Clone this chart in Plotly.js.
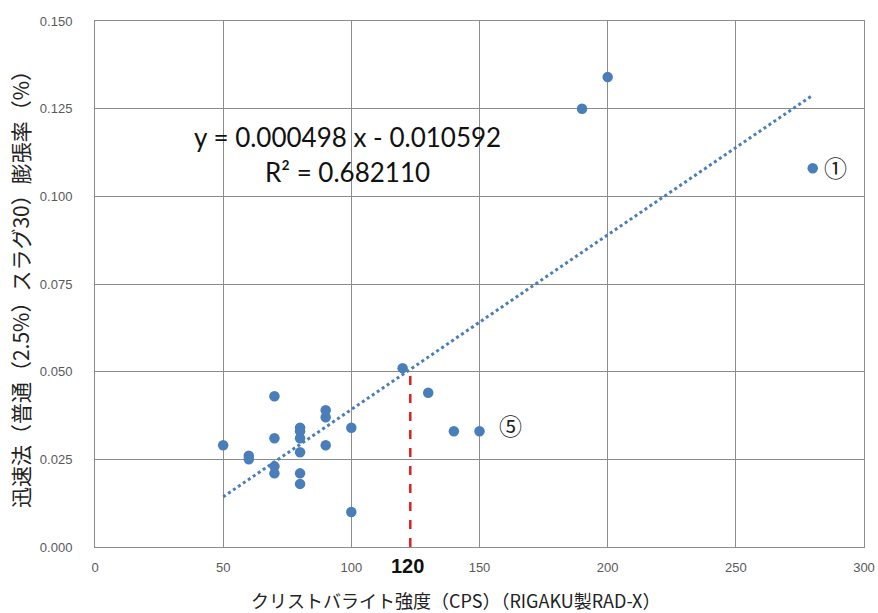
<!DOCTYPE html>
<html>
<head>
<meta charset="utf-8">
<script src="https://cdn.plot.ly/plotly-3.0.1.min.js"></script>
<style>html,body{margin:0;padding:0;background:#fff;}#chart{width:878px;height:613px;}</style>
</head>
<body>
<div id="chart"></div>
<script>
// Data points
const xCps = [50, 60, 60, 70, 70, 70, 70, 80, 80, 80, 80, 80, 80, 90, 90, 90, 100, 100, 120, 130, 140, 150, 190, 200, 280];
const yExp = [0.029, 0.026, 0.025, 0.043, 0.031, 0.023, 0.021, 0.034, 0.033, 0.031, 0.027, 0.021, 0.018, 0.039, 0.037, 0.029, 0.034, 0.010, 0.051, 0.044, 0.033, 0.033, 0.125, 0.134, 0.108];
// Linear trendline (coefficients shown on chart)
const slope = 0.000498;
const intercept = -0.010592;
const trendX = [50, 280];
const trendY = trendX.map(x => slope * x + intercept);
// Threshold marker (hand-drawn in the original, slightly right of 120)
const thresholdX = [123, 123];
const thresholdY = [0, 0.050];
const xTicks = [0, 50, 100, 150, 200, 250, 300];
const yTicks = [0, 0.025, 0.05, 0.075, 0.1, 0.125, 0.15];

const jp = '"Noto Sans CJK JP", "Noto Sans", sans-serif';
const traces = [
  {x: trendX, y: trendY, mode: 'lines', line: {color: '#4a7ebb', width: 3, dash: 'dot'}, hoverinfo: 'skip'},
  {x: thresholdX, y: thresholdY, mode: 'lines', line: {color: '#e02020', width: 2.5, dash: 'dash'}, hoverinfo: 'skip'},
  {x: xCps, y: yExp, mode: 'markers', marker: {color: '#4a7ebb', size: 10.5}}
];
const layout = {
  width: 878, height: 613,
  margin: {l: 95, r: 14, t: 21, b: 66},
  showlegend: false,
  paper_bgcolor: '#fff', plot_bgcolor: '#fff',
  xaxis: {
    range: [0, 300], tickvals: xTicks, ticktext: xTicks.map(String),
    showgrid: true, gridcolor: '#8c8c8c', gridwidth: 1,
    zeroline: false, showline: true, linecolor: '#8c8c8c', mirror: true,
    ticks: '', ticklabelstandoff: 8,
    tickfont: {family: 'Liberation Sans, Arial', size: 13, color: '#595959'}
  },
  yaxis: {
    range: [0, 0.15], tickvals: yTicks, ticktext: yTicks.map(v => v.toFixed(3)),
    showgrid: true, gridcolor: '#8c8c8c', gridwidth: 1,
    zeroline: false, showline: true, linecolor: '#8c8c8c', mirror: true,
    ticks: '', ticklabelstandoff: 19,
    tickfont: {family: 'Liberation Sans, Arial', size: 13, color: '#595959'},
    title: {text: '迅速法（普通（2.5%）スラグ30）膨張率（%）', font: {family: jp, size: 21, color: '#222'}, standoff: 4}
  },
  annotations: [
    {x: 98.5, y: 0.1169, xref: 'x', yref: 'y', text: 'y = 0.000498 x - 0.010592', showarrow: false, font: {family: 'Lato, Liberation Sans, Arial', size: 26, color: '#111'}, xanchor: 'center', yanchor: 'middle'},
    {x: 98.5, y: 0.1069, xref: 'x', yref: 'y', text: 'R² = 0.682110', showarrow: false, font: {family: 'Lato, Liberation Sans, Arial', size: 26, color: '#111'}, xanchor: 'center', yanchor: 'middle'},
    {x: 289, y: 0.1085, xref: 'x', yref: 'y', text: '①', showarrow: false, font: {family: jp, size: 23, color: '#222'}, xanchor: 'center', yanchor: 'middle'},
    {x: 162, y: 0.0348, xref: 'x', yref: 'y', text: '⑤', showarrow: false, font: {family: jp, size: 23, color: '#222'}, xanchor: 'center', yanchor: 'middle'},
    {x: 122, y: 0, xref: 'x', yref: 'paper', text: '<b>120</b>', showarrow: false, font: {family: 'Liberation Sans Narrow, Liberation Sans, Arial', size: 20, color: '#111'}, xanchor: 'center', yanchor: 'top', yshift: -6},
    {x: 455, y: 600, xref: 'paper', yref: 'paper', text: 'クリストバライト強度（CPS）（RIGAKU製RAD-X）', showarrow: false, font: {family: jp, size: 18, color: '#222'}, xanchor: 'center', yanchor: 'middle'}
  ]
};
// convert pixel position of x-axis title into paper coordinates
(function () {
  const a = layout.annotations[5];
  const pw = layout.width - layout.margin.l - layout.margin.r;
  const ph = layout.height - layout.margin.t - layout.margin.b;
  a.x = (455 - layout.margin.l) / pw;
  a.y = (layout.height - layout.margin.b - 600) / ph;
})();
Plotly.newPlot('chart', traces, layout, {displayModeBar: false, staticPlot: true});
</script>
</body>
</html>
